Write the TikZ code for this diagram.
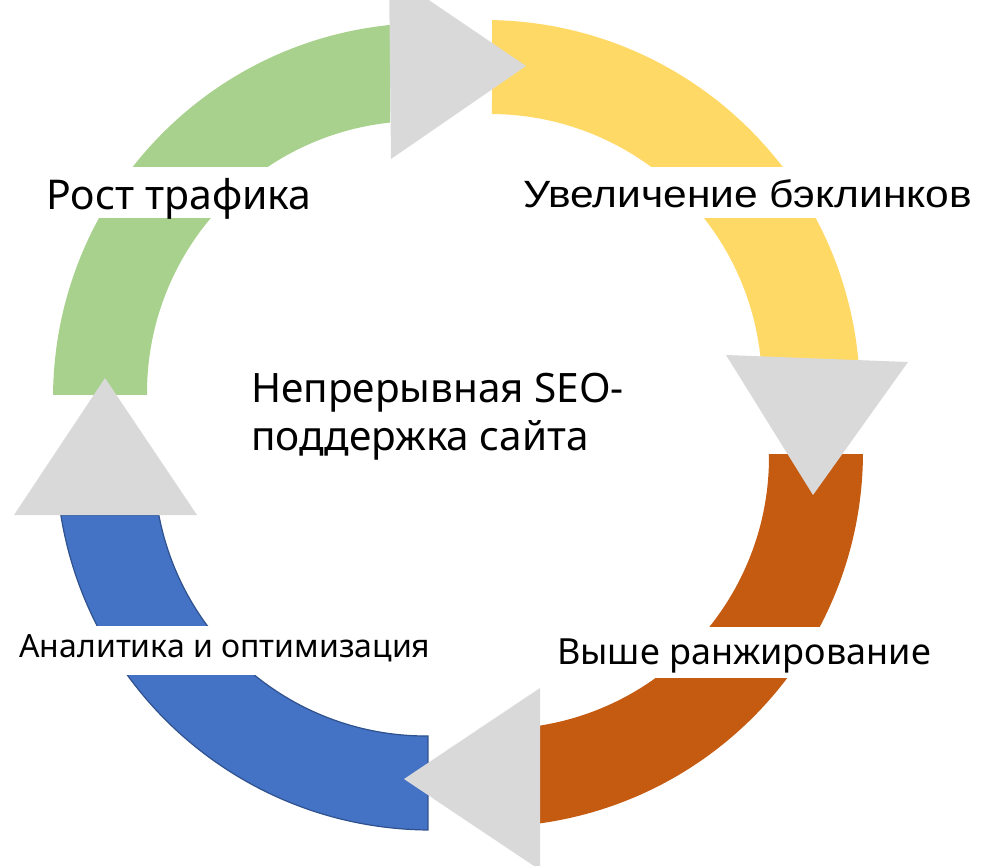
\documentclass[tikz,border=0pt]{standalone}
\usepackage{fontspec}
\setmainfont{Noto Sans}
\newfontfamily\arialfont[FakeStretch=1.12]{Liberation Sans}
\usepackage{tikz}
\usetikzlibrary{positioning}
\definecolor{trafficgreen}{RGB}{169,209,142}
\definecolor{linkyellow}{RGB}{255,217,102}
\definecolor{rankorange}{RGB}{197,90,17}
\definecolor{analyticblue}{RGB}{68,114,196}
\definecolor{blueedge}{RGB}{47,82,143}
\definecolor{arrowgrey}{RGB}{217,217,217}

\begin{document}
\begin{tikzpicture}[x=1pt, y=-1pt,
    stage/.style={fill=white, anchor=base, inner xsep=2pt, inner ysep=0pt,
        text height=40pt, text depth=11pt, font=\fontsize{36}{43}\selectfont},
    turn/.style={fill=arrowgrey}
]
\clip (0,0) rectangle (990,865);
% ring segments
\fill[trafficgreen] ([shift={(428,398)}]180.46:375) arc[start angle=180.46, end angle=264.18, radius=375]
    -- ([shift={(419,393)}]263.88:272) arc[start angle=263.88, end angle=179.58, radius=272] -- cycle;
\fill[linkyellow] ([shift={(485,395)}]271.07:375) arc[start angle=271.07, end angle=354.65, radius=375]
    -- ([shift={(490,386)}]354.51:272) arc[start angle=354.51, end angle=270.42, radius=272] -- cycle;
\fill[rankorange] ([shift={(488,452)}]0.31:375) arc[start angle=0.31, end angle=82.03, radius=375]
    -- ([shift={(497,457)}]80.90:272) arc[start angle=80.90, end angle=-0.63, radius=272] -- cycle;
\filldraw[fill=analyticblue, draw=blueedge, line width=1.2pt] ([shift={(431,455)}]90.46:375) arc[start angle=90.46, end angle=170.8, radius=375]
    -- ([shift={(426,464)}]169.2:272) arc[start angle=169.2, end angle=89.6, radius=272] -- cycle;
% arrow heads
\fill[turn] (389,-27) -- (526,66) -- (391,159) -- cycle;
\fill[turn] (726,355) -- (908,362) -- (813,495) -- cycle;
\fill[turn] (540,688) -- (540,870) -- (404,779) -- cycle;
\fill[turn] (105,378) -- (197,515) -- (14,515) -- cycle;
% labels
\node[stage, text height=42pt, text depth=9pt, font=\fontsize{41}{48}\selectfont] (traffic) at (179,209) {Рост трафика};
\node[stage, font=\arialfont\fontsize{38}{45}\selectfont] (backlinks) at (748,207) {Увеличение бэклинков};
\node[stage, text height=37pt, text depth=14pt] (ranking) at (744,664) {Выше ранжирование};
\node[stage, text height=31pt, text depth=18pt, font=\fontsize{32}{38}\selectfont] (analytics) at (225,657) {Аналитика и оптимизация};
\node[align=left, anchor=base west, inner sep=0pt, font=\fontsize{40.5}{48}\selectfont] (center) at (251,450)
    {Непрерывная SEO-\\поддержка сайта};
\end{tikzpicture}
\end{document}
